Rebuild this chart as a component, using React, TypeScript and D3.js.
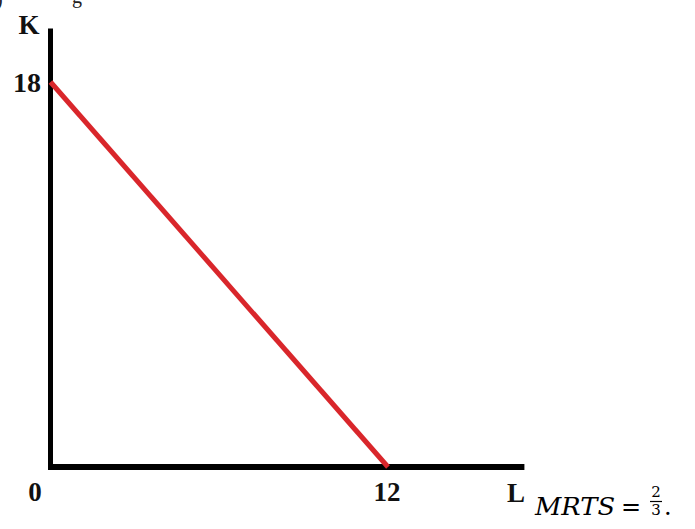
import React from "react";
import * as d3 from "d3";

const isoquant: [number, number][] = [
  [0, 18],
  [12, 0],
];
const xTicks = [0, 12];
const yTicks = [18];
const xAxisMax = 16.85;
const yAxisMax = 20.5;

export default function App() {
  const W = 695;
  const H = 529;
  const x = d3.scaleLinear().domain([0, 12]).range([50.5, 388]);
  const y = d3.scaleLinear().domain([0, 18]).range([467, 82]);
  const line = d3
    .line<[number, number]>()
    .x((d) => x(d[0]))
    .y((d) => y(d[1]));
  const font = "Liberation Serif, DejaVu Serif, serif";
  const mfont = "DejaVu Serif, Liberation Serif, serif";
  return (
    <svg
      width={W}
      height={H}
      style={{ position: "absolute", left: 0, top: 0, background: "#fff" }}
    >
      {/* cut-off fragments from above */}
      <text x={-4} y={6} fontFamily={font} fontSize={20} fill="#222">)</text>
      <text x={72} y={3} fontFamily={font} fontSize={20} fill="#222">g</text>

      {/* axes */}
      <line x1={x(0)} x2={x(0)} y1={y(yAxisMax)} y2={y(0) + 3} stroke="#000" strokeWidth={5} />
      <line x1={x(0) - 2.5} x2={x(xAxisMax)} y1={y(0)} y2={y(0)} stroke="#000" strokeWidth={6} />

      {/* isoquant */}
      <path d={line(isoquant) || ""} fill="none" stroke="#d9262b" strokeWidth={5} />

      {/* labels */}
      <text x={29} y={33.5} fontFamily={font} fontWeight="bold" fontSize={27} fill="#111" textAnchor="middle">K</text>
      {yTicks.map((t) => (
        <text key={t} x={27} y={y(t) + 9.5} fontFamily={font} fontWeight="bold" fontSize={28} fill="#111" textAnchor="middle">{t}</text>
      ))}
      {xTicks.map((t) => (
        <text key={t} x={t === 0 ? 35 : x(t) - 1} y={501} fontFamily={font} fontWeight="bold" fontSize={27} fill="#111" textAnchor="middle">{t}</text>
      ))}
      <text x={516} y={502} fontFamily={font} fontWeight="bold" fontSize={27} fill="#111" textAnchor="middle">L</text>

      {/* MRTS formula */}
      <text x={535} y={515} fontFamily={mfont} fontStyle="italic" fontSize={24} fill="#000" textLength={80} lengthAdjust="spacingAndGlyphs">MRTS</text>
      <text x={631} y={515} fontFamily={mfont} fontSize={24} fill="#000" textAnchor="middle">=</text>
      <text x={656} y={497} fontFamily={mfont} fontSize={15} textAnchor="middle">2</text>
      <line x1={650} x2={662} y1={501.5} y2={501.5} stroke="#000" strokeWidth={1.2} />
      <text x={656} y={515} fontFamily={mfont} fontSize={15} textAnchor="middle">3</text>
      <text x={664} y={515} fontFamily={mfont} fontSize={24}>.</text>
    </svg>
  );
}
